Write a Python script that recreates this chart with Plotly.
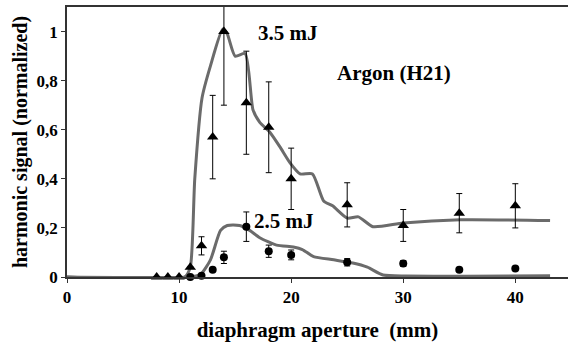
import plotly.graph_objects as go

# measured points
x_hi = [8, 9, 10, 11, 12, 13, 14, 16, 18, 20, 25, 30, 35, 40]
y_hi = [0, 0, 0, 0.04, 0.127, 0.57, 1.0, 0.71, 0.61, 0.40, 0.294, 0.21, 0.26, 0.29]
e_hi = [0, 0, 0, 0, 0.037, 0.17, 0.30, 0.21, 0.185, 0.125, 0.09, 0.065, 0.08, 0.09]

x_lo = [11, 12, 13, 14, 16, 18, 20, 25, 30, 35, 40]
y_lo = [0, 0.005, 0.03, 0.08, 0.205, 0.105, 0.09, 0.06, 0.055, 0.03, 0.035]
e_lo = [0, 0, 0, 0.025, 0.06, 0.025, 0.02, 0.015, 0.012, 0, 0]

# simulation curves
cx_hi = [0, 10.5, 11.0, 11.4, 12.05, 12.8, 13.9, 14.3, 15.0, 15.9, 16.6, 17.2, 18.1, 19.0, 19.9,
         20.8, 21.9, 22.9, 23.7, 25.0, 26.0, 27.3, 30.0, 35.1, 43.1]
cy_hi = [0, 0, 0.04, 0.40, 0.73, 0.86, 1.01, 0.99, 0.90, 0.91, 0.68, 0.63, 0.59, 0.53, 0.465,
         0.42, 0.42, 0.31, 0.29, 0.24, 0.245, 0.205, 0.22, 0.233, 0.23]

cx_lo = [0, 10.8, 11.9, 12.8, 13.7, 14.3, 15.4, 16.3, 17.2, 18.7, 20.2, 21.0, 22.0, 23.8,
         25.5, 26.8, 28.2, 30.3, 43.1]
cy_lo = [0, 0, 0.01, 0.07, 0.19, 0.21, 0.21, 0.19, 0.16, 0.13, 0.122, 0.112, 0.083, 0.07,
         0.057, 0.04, 0.008, 0.004, 0.005]

x_ticks = [0, 10, 20, 30, 40]
y_ticks = [0, 0.2, 0.4, 0.6, 0.8, 1.0]
y_ticktext = ["0", "0,2", "0,4", "0,6", "0,8", "1"]

FONT = "Liberation Serif"
GRAY = "#6b6b6b"

fig = go.Figure()
fig.add_trace(go.Scatter(x=cx_hi, y=cy_hi, mode="lines", line=dict(color=GRAY, width=3, shape="spline", smoothing=0.6),
                         showlegend=False, hoverinfo="skip"))
fig.add_trace(go.Scatter(x=cx_lo, y=cy_lo, mode="lines", line=dict(color=GRAY, width=3, shape="spline", smoothing=0.6),
                         showlegend=False, hoverinfo="skip"))
fig.add_trace(go.Scatter(x=x_hi, y=y_hi, mode="markers", cliponaxis=False,
                         marker=dict(symbol="triangle-up", size=10, color="black"),
                         error_y=dict(type="data", array=e_hi, visible=True, color="black", thickness=1, width=3),
                         showlegend=False))
fig.add_trace(go.Scatter(x=x_lo, y=y_lo, mode="markers", cliponaxis=False,
                         marker=dict(symbol="circle", size=8, color="black"),
                         error_y=dict(type="data", array=e_lo, visible=True, color="black", thickness=1, width=3),
                         showlegend=False))

fig.add_annotation(x=19.7, y=0.996, text="<b>3.5 mJ</b>", showarrow=False, font=dict(family=FONT, size=21, color="black"))
fig.add_annotation(x=29.2, y=0.83, text="<b>Argon (H21)</b>", showarrow=False, font=dict(family=FONT, size=21, color="black"))
fig.add_annotation(x=19.4, y=0.228, text="<b>2.5 mJ</b>", showarrow=False, font=dict(family=FONT, size=21, color="black"))

fig.update_layout(
    width=568, height=349,
    margin=dict(l=67, r=0, t=7, b=72),
    paper_bgcolor="white", plot_bgcolor="white",
    font=dict(family=FONT, color="black"),
)
fig.update_xaxes(range=[0, 44.7], tickvals=x_ticks, ticktext=[f"<b>{v}</b>" for v in x_ticks],
                 showgrid=False, zeroline=False, showline=True, linecolor="#333", linewidth=1.5, mirror=True,
                 ticks="outside", ticklen=4, tickcolor="#333",
                 tickfont=dict(family=FONT, size=17),
                 title=dict(text="<b>diaphragm aperture  (mm)</b>", font=dict(family=FONT, size=21), standoff=16))
fig.update_yaxes(range=[0, 1.1], tickvals=y_ticks, ticktext=[f"<b>{t}</b>" for t in y_ticktext],
                 showgrid=False, zeroline=False, showline=True, linecolor="#333", linewidth=1.5,
                 ticks="outside", ticklen=4, tickcolor="#333",
                 tickfont=dict(family=FONT, size=17),
                 title=dict(text="<b>harmonic signal (normalized)</b>", font=dict(family=FONT, size=20), standoff=4))

fig.write_html("out.html", config={"displayModeBar": False},
               post_script="document.body.style.margin='0';document.body.style.padding='0';")
